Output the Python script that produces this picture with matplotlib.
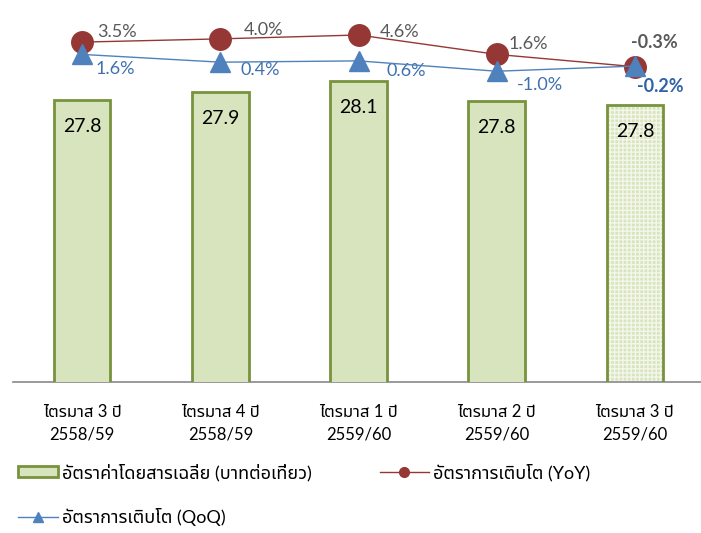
import matplotlib
matplotlib.use('Agg')
import matplotlib.pyplot as plt
from matplotlib.lines import Line2D
from matplotlib.patches import Patch

plt.rcParams['font.family'] = ['Lato', 'Noto Sans Thai', 'DejaVu Sans']
plt.rcParams['hatch.linewidth'] = 1.0

quarters = ['ไตรมาส 3 ปี\n2558/59', 'ไตรมาส 4 ปี\n2558/59', 'ไตรมาส 1 ปี\n2559/60',
            'ไตรมาส 2 ปี\n2559/60', 'ไตรมาส 3 ปี\n2559/60']
fare = [27.81, 27.93, 28.11, 27.79, 27.73]
fare_text = ['27.8', '27.9', '28.1', '27.8', '27.8']
yoy = [3.5, 4.0, 4.6, 1.6, -0.3]
qoq = [1.6, 0.4, 0.6, -1.0, -0.2]

# label offsets (points) as placed by hand in the original
yoy_off = [(10.8, 7.6), (16.6, 6.5), (15.1, 2.5), (8.6, 7.2), (13.7, 17.3)]
qoq_off = [(9.4, -10.8), (14.4, -5.8), (20.2, -7.2), (14.4, -10.1), (18, -15)]

bar_face = '#D7E4BD'
bar_edge = '#77933C'
red = '#953735'
blue = '#4F81BD'

fig = plt.figure(figsize=(7.01, 5.33), dpi=100)
ax = fig.add_axes([0.0185, 0.2833, 0.984, 0.679])
x = list(range(len(quarters)))

for i in x:
    if i == len(x) - 1:
        ax.bar(i, fare[i], width=0.41, color=bar_face, edgecolor='#F3F7EA',
               hatch='++++', linewidth=0, zorder=2)
        ax.bar(i, fare[i], width=0.41, color='none', edgecolor=bar_edge,
               linewidth=2, zorder=3)
    else:
        ax.bar(i, fare[i], width=0.41, color=bar_face, edgecolor=bar_edge,
               linewidth=2, zorder=3)
    ax.annotate(fare_text[i], (i, fare[i]), xytext=(0, -19),
                textcoords='offset points', ha='center', va='center',
                fontsize=14, color='black', zorder=4)

ax.set_xlim(-0.5, 4.49)
ax.set_ylim(23.35, 29.07)
ax.set_xticks(x)
ax.set_xticklabels(quarters, fontsize=12, linespacing=1.45)
ax.tick_params(axis='x', length=0, pad=16)
ax.set_yticks([])
for s in ['top', 'right', 'left']:
    ax.spines[s].set_visible(False)
ax.spines['bottom'].set_color('#898989')
ax.spines['bottom'].set_linewidth(1.2)

ax2 = ax.twinx()
ax2.set_ylim(-49, 6.9)
ax2.set_yticks([])
for s in ax2.spines.values():
    s.set_visible(False)
ax2.plot(x, yoy, color=red, lw=1, marker='o', markersize=15.5, zorder=3)
ax2.plot(x, qoq, color=blue, lw=1, marker='^', markersize=15, zorder=4)

last = len(x) - 1
for i in x:
    bold = 'bold' if i == last else 'normal'
    ha = 'center' if i == last else 'left'
    ax2.annotate('%.1f%%' % yoy[i], (i, yoy[i]), xytext=yoy_off[i],
                 textcoords='offset points', ha=ha, va='center', fontsize=13,
                 fontweight=bold, color='#595959')
    ax2.annotate('%.1f%%' % qoq[i], (i, qoq[i]), xytext=qoq_off[i],
                 textcoords='offset points', ha=ha, va='center', fontsize=13,
                 fontweight=bold, color='#2F62A6' if i == last else '#3F70B0')

leg_kw = dict(loc='upper left', frameon=False, fontsize=13,
              handlelength=2.2, handleheight=0.55, handletextpad=0.25,
              labelspacing=1.5, borderpad=0, borderaxespad=0)
h_bar = Patch(facecolor=bar_face, edgecolor=bar_edge, linewidth=2)
h_qoq = Line2D([], [], color=blue, lw=1, marker='^', markersize=7)
h_yoy = Line2D([], [], color=red, lw=1, marker='o', markersize=7)
fig.legend([h_bar, h_qoq],
           ['อัตราค่าโดยสารเฉลี่ย (บาทต่อเที่ยว)', 'อัตราการเติบโต (QoQ)'],
           bbox_to_anchor=(18 / 701, 0.13), **leg_kw)
leg_kw['handlelength'] = 2.7
fig.legend([h_yoy], ['อัตราการเติบโต (YoY)'],
           bbox_to_anchor=(380 / 701, 0.13), **leg_kw)

fig.savefig('out.png')
